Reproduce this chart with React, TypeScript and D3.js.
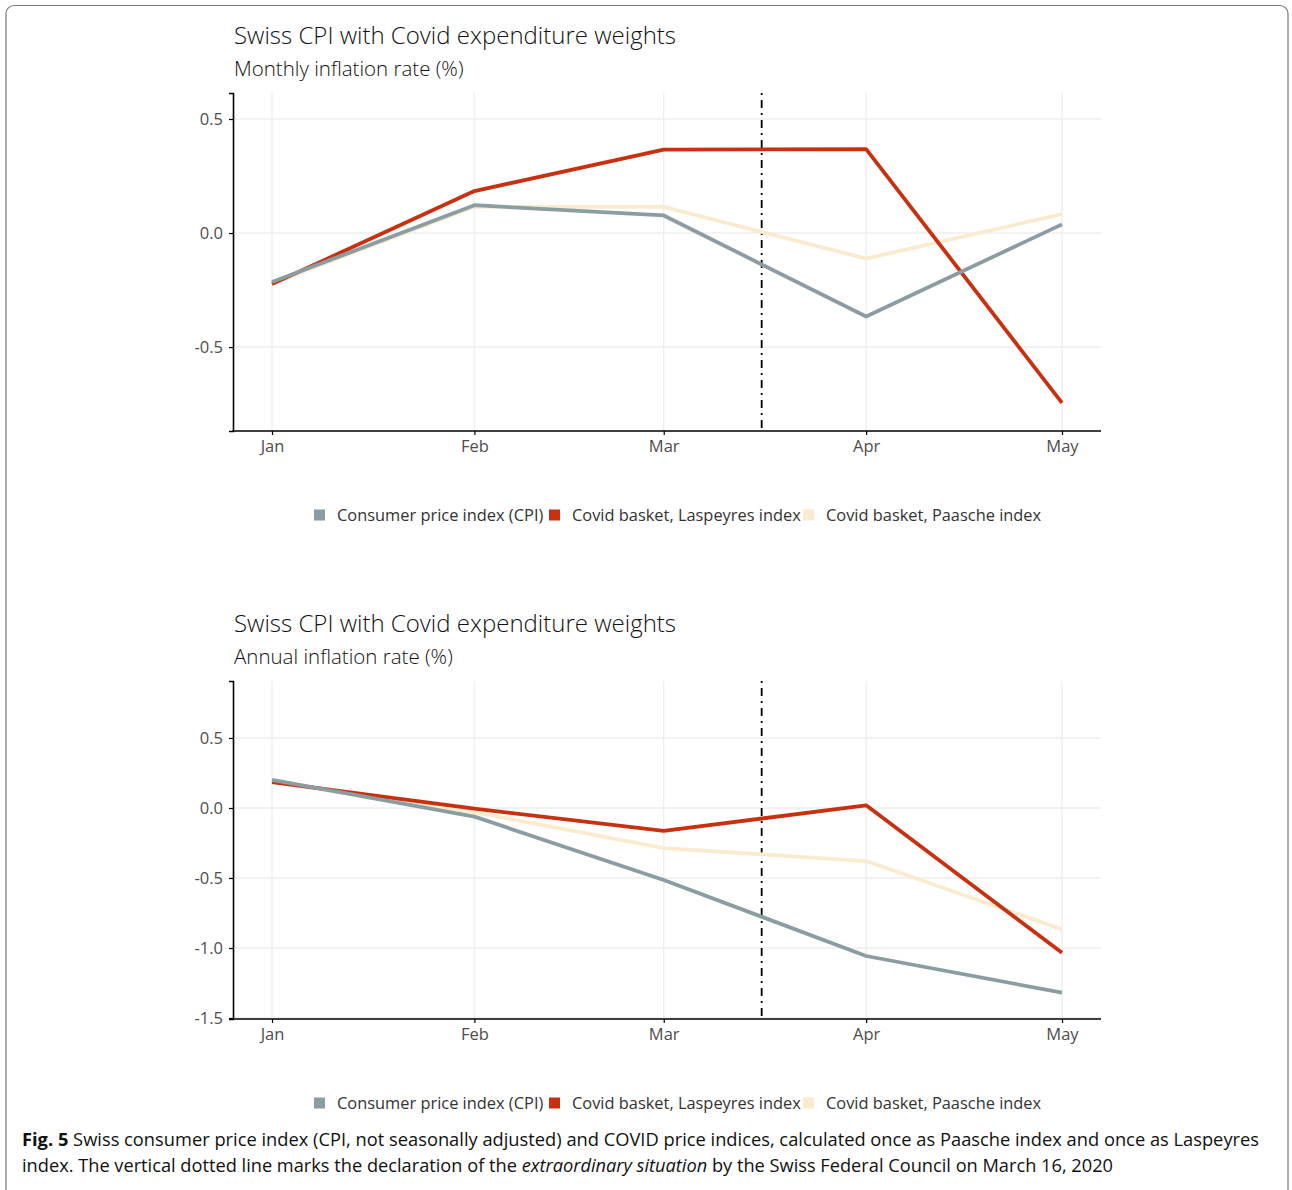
import React, { useEffect, useRef } from 'react';
import * as d3 from 'd3';

// months shown on the x axis (first day of each month, 2020)
const months = ['Jan', 'Feb', 'Mar', 'Apr', 'May'];
const monthDates = months.map((_, i) => new Date(Date.UTC(2020, i, 1)));
const lockdownDate = new Date(Date.UTC(2020, 2, 16));

// monthly inflation rate (%)
const monthlyCPI = [-0.215, 0.122, 0.077, -0.366, 0.038];
const monthlyLaspeyres = [-0.224, 0.184, 0.366, 0.368, -0.745];
const monthlyPaasche = [-0.22, 0.115, 0.115, -0.112, 0.083];

// annual inflation rate (%)
const annualCPI = [0.2, -0.062, -0.514, -1.057, -1.319];
const annualLaspeyres = [0.185, -0.005, -0.164, 0.019, -1.034];
const annualPaasche = [0.185, -0.03, -0.286, -0.379, -0.867];

const monthlyTicks = [-0.5, 0, 0.5];
const annualTicks = [-1.5, -1.0, -0.5, 0, 0.5];

const seriesNames = [
  'Consumer price index (CPI)',
  'Covid basket, Laspeyres index',
  'Covid basket, Paasche index',
];
const colors = ['#8A9DA3', '#C8310F', '#FAEBCF'];

const font = '"Open Sans", "Noto Sans", sans-serif';

const App: React.FC = () => {
  const chartRef = useRef<SVGSVGElement>(null);

  const renderPanel = (svg, cfg) => {
    const { top, bottom, left, right, yDomain, ticks, title, subtitle, series, legendY } = cfg;

    const x = d3
      .scaleUtc()
      .domain([monthDates[0], monthDates[monthDates.length - 1]])
      .range([272, 1062]);
    const y = d3.scaleLinear().domain(yDomain).range([bottom, top]);

    const g = svg.append('g');

    // titles
    g.append('text')
      .attr('x', left + 1)
      .attr('y', top - 49)
      .attr('font-size', 24)
      .attr('font-weight', 300)
      .attr('fill', '#111')
      .text(title);
    g.append('text')
      .attr('x', left + 1)
      .attr('y', top - 17)
      .attr('font-size', 20.5)
      .attr('font-weight', 300)
      .attr('fill', '#111')
      .text(subtitle);

    // grid
    const grid = g.append('g').attr('stroke', '#EEEEEE').attr('stroke-width', 1.4);
    grid
      .selectAll('line.h')
      .data(ticks)
      .join('line')
      .attr('x1', left)
      .attr('x2', right)
      .attr('y1', (d) => y(d))
      .attr('y2', (d) => y(d));
    grid
      .selectAll('line.v')
      .data(monthDates)
      .join('line')
      .attr('x1', (d) => x(d))
      .attr('x2', (d) => x(d))
      .attr('y1', top)
      .attr('y2', bottom);

    // vertical dot-dash line at the declaration date
    g.append('line')
      .attr('x1', x(lockdownDate))
      .attr('x2', x(lockdownDate))
      .attr('y1', top)
      .attr('y2', bottom)
      .attr('stroke', '#000')
      .attr('stroke-width', 1.8)
      .attr('stroke-dasharray', '2,5,8,5');

    // lines, Paasche first so CPI ends up on top
    const line = d3
      .line<number>()
      .x((_, i) => x(monthDates[i]))
      .y((d) => y(d));
    [2, 1, 0].forEach((k) => {
      g.append('path')
        .datum(series[k])
        .attr('d', line)
        .attr('fill', 'none')
        .attr('stroke', colors[k])
        .attr('stroke-width', 3.8)
        .attr('stroke-linejoin', 'round');
    });

    // y axis
    const yAxis = g
      .append('g')
      .attr('transform', `translate(${left},0)`)
      .call(
        d3
          .axisLeft(y)
          .tickValues(ticks)
          .tickSize(4)
          .tickPadding(6)
          .tickFormat((d) => (+d).toFixed(1))
      );
    yAxis.select('.domain').attr('stroke', '#000').attr('stroke-width', 1.6);
    yAxis.selectAll('.tick line').attr('stroke', '#000').attr('stroke-width', 1.2);
    yAxis
      .selectAll('.tick text')
      .attr('font-size', 16.5)
      .attr('font-family', font)
      .attr('fill', '#4D4D4D');

    // x axis
    const xAxis = g
      .append('g')
      .attr('transform', `translate(0,${bottom})`)
      .call(
        d3
          .axisBottom(x)
          .tickValues(monthDates)
          .tickSize(4)
          .tickPadding(5)
          .tickFormat((_, i) => months[i])
      );
    xAxis.select('.domain').remove();
    xAxis.selectAll('.tick line').attr('stroke', '#000').attr('stroke-width', 1.2);
    xAxis
      .selectAll('.tick text')
      .attr('font-size', 16.5)
      .attr('font-family', font)
      .attr('fill', '#4D4D4D');
    g.append('line')
      .attr('x1', left - 0.8)
      .attr('x2', right)
      .attr('y1', bottom)
      .attr('y2', bottom)
      .attr('stroke', '#000')
      .attr('stroke-width', 1.6);

    // legend
    const keyX = [314, 549, 803];
    const legend = g.append('g').attr('transform', `translate(0,${legendY})`);
    seriesNames.forEach((name, k) => {
      legend
        .append('rect')
        .attr('x', keyX[k])
        .attr('y', -5.5)
        .attr('width', 11)
        .attr('height', 11)
        .attr('fill', colors[k]);
      legend
        .append('text')
        .attr('x', keyX[k] + 23)
        .attr('y', 6)
        .attr('font-size', 16.4)
        .attr('fill', '#333')
        .text(name);
    });
  };

  const renderChart = () => {
    const svg = d3.select(chartRef.current);
    svg.selectAll('*').remove();
    svg.attr('font-family', font);

    // page frame
    svg
      .append('rect')
      .attr('x', 6)
      .attr('y', 5.5)
      .attr('width', 1282)
      .attr('height', 1200)
      .attr('rx', 8)
      .attr('fill', 'none')
      .attr('stroke', '#777')
      .attr('stroke-width', 1.2);

    renderPanel(svg, {
      top: 93,
      bottom: 431,
      left: 233,
      right: 1101,
      yDomain: [-0.868, 0.614],
      ticks: monthlyTicks,
      title: 'Swiss CPI with Covid expenditure weights',
      subtitle: 'Monthly inflation rate (%)',
      series: [monthlyCPI, monthlyLaspeyres, monthlyPaasche],
      legendY: 515,
    });

    renderPanel(svg, {
      top: 681,
      bottom: 1019,
      left: 233,
      right: 1101,
      yDomain: [-1.507, 0.907],
      ticks: annualTicks,
      title: 'Swiss CPI with Covid expenditure weights',
      subtitle: 'Annual inflation rate (%)',
      series: [annualCPI, annualLaspeyres, annualPaasche],
      legendY: 1103,
    });

    // figure caption
    const cap1 = svg
      .append('text')
      .attr('x', 22)
      .attr('y', 1146)
      .attr('font-size', 18)
      .attr('fill', '#111')
      .attr('textLength', 1237)
      .attr('lengthAdjust', 'spacingAndGlyphs');
    cap1.append('tspan').attr('font-weight', 700).text('Fig. 5');
    cap1
      .append('tspan')
      .text(
        ' Swiss consumer price index (CPI, not seasonally adjusted) and COVID price indices, calculated once as Paasche index and once as Laspeyres'
      );

    const cap2 = svg
      .append('text')
      .attr('x', 22)
      .attr('y', 1172)
      .attr('font-size', 18)
      .attr('fill', '#111')
      .attr('textLength', 1091)
      .attr('lengthAdjust', 'spacingAndGlyphs');
    cap2.append('tspan').text('index. The vertical dotted line marks the declaration of the ');
    cap2.append('tspan').attr('font-style', 'italic').text('extraordinary situation');
    cap2.append('tspan').text(' by the Swiss Federal Council on March 16, 2020');
  };

  useEffect(() => {
    renderChart();
  }, []);

  return (
    <svg
      ref={chartRef}
      width={1292}
      height={1190}
      style={{ position: 'absolute', left: 0, top: 0, background: '#fff' }}
    ></svg>
  );
};

export default App;
